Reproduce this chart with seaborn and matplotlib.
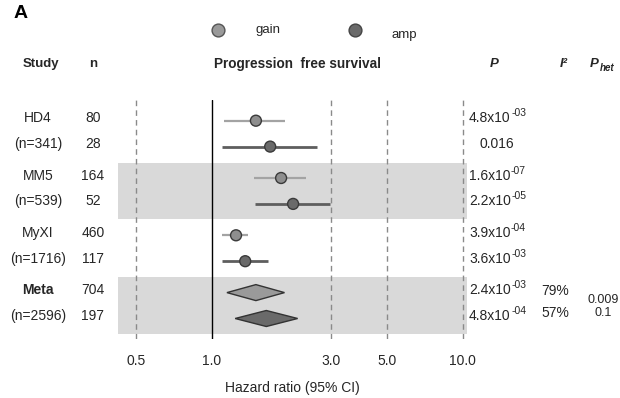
import numpy as np
import pandas as pd
import matplotlib
matplotlib.use("Agg")
import matplotlib.pyplot as plt
from matplotlib.patches import Polygon
from matplotlib.ticker import NullLocator
import seaborn as sns

# ---------------- data ----------------
studies = ["HD4", "MM5", "MyXI", "Meta"]
study_n = ["(n=341)", "(n=539)", "(n=1716)", "(n=2596)"]
n_gain = [80, 164, 460, 704]
n_amp = [28, 52, 117, 197]
hr_gain = [1.50, 1.89, 1.25, 1.50]
lo_gain = [1.12, 1.48, 1.10, 1.15]
hi_gain = [1.96, 2.37, 1.40, 1.95]
hr_amp = [1.71, 2.11, 1.36, 1.65]
lo_amp = [1.10, 1.49, 1.10, 1.24]
hi_amp = [2.63, 2.96, 1.67, 2.20]
p_gain = ["4.8x10^-03", "1.6x10^-07", "3.9x10^-04", "2.4x10^-03"]
p_amp = ["0.016", "2.2x10^-05", "3.6x10^-03", "4.8x10^-04"]
i2_meta = ["79%", "57%"]
phet_meta = ["0.009", "0.1"]
tick_vals = [0.5, 1.0, 3.0, 5.0, 10.0]
tick_labels = ["0.5", "1.0", "3.0", "5.0", "10.0"]
types = ["gain", "amp"]

# ---------------- style ----------------
sns.set_theme(style="white")
plt.rcParams['font.family'] = ['Liberation Sans', 'DejaVu Sans']
TXT = "#262626"
pt_fill = {"gain": "#8e8e8e", "amp": "#6a6a6a"}
ci_col = {"gain": "#a3a3a3", "amp": "#5e5e5e"}
ci_lw = {"gain": 1.6, "amp": 2.0}
dia_fill = {"gain": "#9a9a9a", "amp": "#6a6a6a"}

W, H = 620, 398
fig = plt.figure(figsize=(6.2, 3.98), dpi=100)

ax_l, ax_r, ax_t, ax_b = 118.3, 466.7, 100.0, 339.3
ax = fig.add_axes([ax_l / W, 1 - ax_b / H, (ax_r - ax_l) / W, (ax_b - ax_t) / H])
ax.set_xscale('log')
x_at = lambda px: 10 ** ((px - 211.7) / 251.0)
ax.set_xlim(x_at(ax_l), x_at(ax_r))
ax.set_ylim(ax_b, ax_t)
ax.patch.set_visible(False)
for s in ax.spines.values():
    s.set_visible(False)


def row_y(g, k):
    return 120.7 + g * 57.3 + k * 25.9


# shaded bands
for g in (1, 3):
    c = (row_y(g, 0) + row_y(g, 1)) / 2
    ax.axhspan(c - 28.4, c + 28.4, color="#d9d9d9", lw=0, zorder=0)

# reference lines
for v in tick_vals:
    if v == 1.0:
        ax.axvline(v, color="black", lw=1.0, zorder=1)
    else:
        ax.axvline(v, color="#8a8a8a", lw=1.0, ls=(0, (4, 3)), zorder=1)

# study rows (points with CI)
rows = []
for g in range(3):
    rows.append(dict(type="gain", y=row_y(g, 0), hr=hr_gain[g], lo=lo_gain[g], hi=hi_gain[g]))
    rows.append(dict(type="amp", y=row_y(g, 1), hr=hr_amp[g], lo=lo_amp[g], hi=hi_amp[g]))
df = pd.DataFrame(rows)
for t in types:
    d = df[df.type == t]
    ax.hlines(d.y, d.lo, d.hi, color=ci_col[t], lw=ci_lw[t], zorder=2)
sns.scatterplot(data=df, x="hr", y="y", hue="type", palette=pt_fill, s=62,
                edgecolor="#3a3a3a", linewidth=1.0, legend=False, ax=ax, zorder=3)

# meta diamonds
meta = [("gain", row_y(3, 0), hr_gain[3], lo_gain[3], hi_gain[3]),
        ("amp", row_y(3, 1), hr_amp[3], lo_amp[3], hi_amp[3])]
hh = 8.0
for t, y, est, lo, hi in meta:
    poly = Polygon([(lo, y), (est, y - hh), (hi, y), (est, y + hh)], closed=True,
                   facecolor=dia_fill[t], edgecolor="#333333", lw=1.0, zorder=3)
    ax.add_patch(poly)

ax.set_xticks(tick_vals)
ax.set_xticklabels(tick_labels)
ax.xaxis.set_minor_locator(NullLocator())
ax.set_yticks([])
ax.tick_params(axis="x", length=0, pad=10.5, labelsize=10, labelcolor=TXT)
ax.set_xlabel("")
ax.set_ylabel("")

# ---------------- text layer ----------------
tax = fig.add_axes([0, 0, 1, 1])
tax.set_xlim(0, W)
tax.set_ylim(H, 0)
tax.axis("off")
tax.patch.set_visible(False)

tax.text(14, 14, "A", fontsize=14, fontweight="bold", ha="left", va="center", color="black")

# legend
tax.scatter([218], [30], s=85, color="#9a9a9a", edgecolor="#555555", lw=1.0)
tax.scatter([355], [30], s=85, color="#6a6a6a", edgecolor="#444444", lw=1.0)
tax.text(255, 30, "gain", fontsize=9.5, ha="left", va="center", color=TXT)
tax.text(392, 35, "amp", fontsize=9.5, ha="left", va="center", color=TXT)

# headers
hy = 64
tax.text(41, hy, "Study", fontsize=9.5, fontweight="bold", ha="center", va="center", color=TXT)
tax.text(93, hy, "n", fontsize=9.5, fontweight="bold", ha="center", va="center", color=TXT)
tax.text(297, hy, "Progression  free survival", fontsize=9.8, fontweight="bold",
         ha="center", va="center", color=TXT)
tax.text(494, hy, "P", fontsize=9.5, fontweight="bold", fontstyle="italic", ha="center", va="center", color=TXT)
tax.text(564, hy, "I²", fontsize=9.5, fontweight="bold", fontstyle="italic", ha="center", va="center", color=TXT)
ph = tax.text(590, hy, "P", fontsize=9.5, fontweight="bold", fontstyle="italic", ha="left", va="center", color=TXT)
tax.annotate("het", xy=(1, 0.15), xycoords=ph, xytext=(0.5, 0), textcoords="offset points",
             fontsize=7, fontweight="bold", fontstyle="italic", ha="left", va="center", color=TXT)


def ptext(x, y, s):
    if "^" in s:
        base, ex = s.split("^")
        t = tax.text(x, y, base, fontsize=10, ha="left", va="center", color=TXT)
        tax.annotate(ex, xy=(1, 0.5), xycoords=t, xytext=(0.3, 0), textcoords="offset points",
                     fontsize=7.5, ha="left", va="bottom", color=TXT)
    else:
        tax.text(x + 28, y, s, fontsize=10, ha="center", va="center", color=TXT)


for g in range(4):
    y0, y1 = row_y(g, 0) - 2.5, row_y(g, 1) - 2.5
    tax.text(38, y0, studies[g], fontsize=10, ha="center", va="center", color=TXT,
             fontweight="bold" if studies[g] == "Meta" else "normal")
    tax.text(38, y1, study_n[g], fontsize=10, ha="center", va="center", color=TXT)
    tax.text(93, y0, str(n_gain[g]), fontsize=10, ha="center", va="center", color=TXT)
    tax.text(93, y1, str(n_amp[g]), fontsize=10, ha="center", va="center", color=TXT)
    ptext(469, y0, p_gain[g])
    ptext(469, y1, p_amp[g])

my0, my1 = row_y(3, 0) - 1.5, row_y(3, 1) - 5
tax.text(555, my0, i2_meta[0], fontsize=10, ha="center", va="center", color=TXT)
tax.text(555, my1, i2_meta[1], fontsize=10, ha="center", va="center", color=TXT)
tax.text(603, 300, phet_meta[0], fontsize=9, ha="center", va="center", color=TXT)
tax.text(603, 313.5, phet_meta[1], fontsize=9, ha="center", va="center", color=TXT)

tax.text(292.5, 388, "Hazard ratio (95% CI)", fontsize=10, ha="center", va="center", color=TXT)

fig.savefig("out.png", dpi=100)
